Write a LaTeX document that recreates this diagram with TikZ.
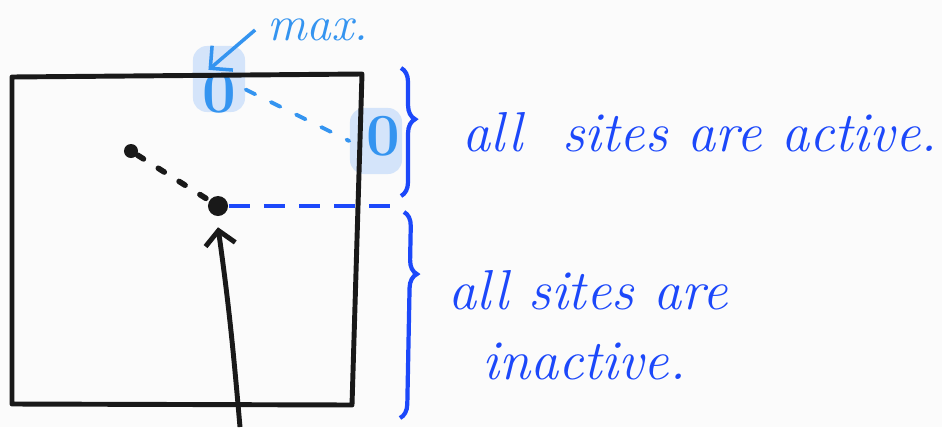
\documentclass[tikz,border=0pt]{standalone}
\usepackage{tikz}
\usetikzlibrary{arrows.meta,positioning,decorations.pathreplacing}
\definecolor{inkblue}{RGB}{28,72,250}
\definecolor{paleblue}{RGB}{52,148,240}
\definecolor{markbox}{RGB}{212,228,250}
\definecolor{paper}{RGB}{251,251,251}

\begin{document}
\begin{tikzpicture}[x=0.01cm, y=-0.01cm,
  frame/.style={draw=black!90, line width=1.4pt, line join=round},
  site/.style={fill=markbox, rounded corners=4pt, text=paleblue,
               minimum width=0.52cm, minimum height=0.66cm, inner sep=0pt,
               font=\fontsize{17}{17}\selectfont\bfseries},
  dot/.style={circle, fill=black!90, inner sep=0pt},
  trail/.style={draw=black!90, line width=1.6pt, line cap=round, dash pattern=on 2pt off 5pt},
  peak/.style={draw=paleblue, line width=1.1pt, line cap=round, dash pattern=on 3pt off 5pt},
  level/.style={draw=inkblue, line width=1.1pt, dash pattern=on 6pt off 4pt},
  probe/.style={draw=black!90, line width=1.4pt, -{Straight Barb[length=1.4mm, width=3mm]}},
  pointer/.style={draw=paleblue, line width=1pt, -{Straight Barb[length=1.6mm, width=3.2mm]}},
  brc/.style={draw=inkblue, line width=1.2pt, decorate},
  note/.style={text=inkblue, font=\fontsize{16}{20}\selectfont\itshape, anchor=west, align=left}
]
\fill[paper] (0,0) rectangle (942,427);
\useasboundingbox (0,0) rectangle (942,427);

\node[site] (top) at (219,79) {\raisebox{-9.5pt}[0pt][0pt]{0}};
\node[site] (right) at (376,141) {\raisebox{-4pt}[0pt][0pt]{\hspace{4pt}0}};

\draw[frame] (12,77) -- (362,74) -- (352,405) -- (12,404) -- cycle;

\node[dot, minimum size=0.14cm] (low) at (131,151) {};
\node[dot, minimum size=0.2cm] (mid) at (218,206) {};
\coordinate (edge) at (402,206);
\coordinate (foot) at (240,427);

\node[text=paleblue, font=\fontsize{14}{14}\selectfont\itshape] (maxlab) at (318,30) {max.};

\draw[trail] (low) -- (mid);
\draw[peak] ([yshift=-3pt]top.east) -- (right.west);
\draw[level] (mid) -- (edge);
\draw[probe] (foot) to[out=95, in=-82] ([yshift=-3pt]mid.south);
\draw[pointer] (maxlab.west) -- ([xshift=-3pt, yshift=-7pt]top.north);

\draw[brc, decoration={brace, amplitude=4pt, aspect=0.4}] (401,68) -- (401,196);
\draw[brc, decoration={brace, amplitude=4pt, aspect=0.3}] (404,212) -- (400,418);

\node[note] (act) at (450,132) {all \ sites are active.};
\node[note] (inact) at (436,325) {all sites are\\\hspace*{0.6em}inactive.};
\end{tikzpicture}
\end{document}
